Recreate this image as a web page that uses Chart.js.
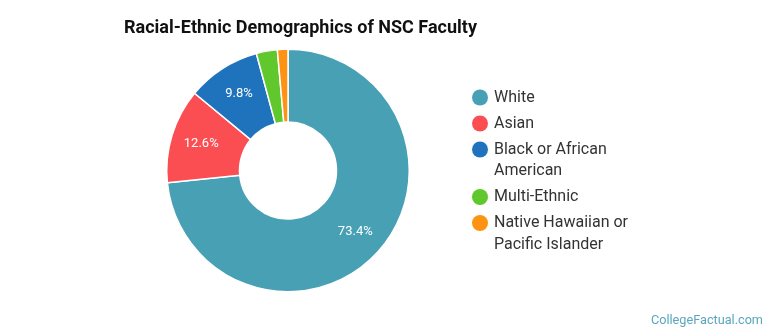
<!DOCTYPE html>
<html>
<head>
<meta charset="utf-8">
<script src="https://cdn.jsdelivr.net/npm/chart.js@4.4.0/dist/chart.umd.min.js"></script>
<style>
html,body{margin:0;padding:0;background:#fff;}
#wrap{position:relative;width:770px;height:335px;}
</style>
</head>
<body>
<div id="wrap"><canvas id="c" width="770" height="335"></canvas></div>
<script>
const titleText = "Racial-Ethnic Demographics of NSC Faculty";
const categories = ["White", "Asian", "Black or African American", "Multi-Ethnic", "Native Hawaiian or Pacific Islander"];
const legendLines = [["White"], ["Asian"], ["Black or African", "American"], ["Multi-Ethnic"], ["Native Hawaiian or", "Pacific Islander"]];
const values = [73.4, 12.6, 9.8, 2.8, 1.4];
const colors = ["#48a0b4", "#fb4e53", "#1f73bd", "#60c72c", "#fe9212"];
const watermark = "CollegeFactual.com";

const FONT = "Roboto, 'Liberation Sans', sans-serif";

const overlay = {
  id: 'overlay',
  afterDraw(chart) {
    const ctx = chart.ctx;
    ctx.save();
    // title
    ctx.fillStyle = '#111';
    ctx.font = "bold 18px " + FONT;
    ctx.textBaseline = 'middle';
    ctx.textAlign = 'left';
    ctx.fillText(titleText, 124, 28);

    // percent labels
    const meta = chart.getDatasetMeta(0);
    const total = values.reduce((a, b) => a + b, 0);
    ctx.font = "13px " + FONT;
    ctx.fillStyle = '#fff';
    ctx.textAlign = 'center';
    meta.data.forEach((arc, i) => {
      const pct = values[i] / total * 100;
      if (pct < 5) return;
      const p = arc.getProps(['x', 'y', 'startAngle', 'endAngle', 'innerRadius', 'outerRadius'], true);
      const a = (p.startAngle + p.endAngle) / 2;
      const r = p.innerRadius + (p.outerRadius - p.innerRadius) * 0.58;
      ctx.fillText(values[i].toFixed(1) + '%', p.x + Math.cos(a) * r, p.y + Math.sin(a) * r);
    });

    // legend
    ctx.font = "16px " + FONT;
    ctx.textAlign = 'left';
    let y = 97.5;
    legendLines.forEach((lines, i) => {
      ctx.fillStyle = colors[i];
      ctx.beginPath();
      ctx.arc(480, y, 8, 0, Math.PI * 2);
      ctx.fill();
      ctx.fillStyle = '#333';
      lines.forEach((ln, j) => {
        ctx.fillText(ln, 494, y + j * 21.5);
      });
      y += 26 + (lines.length - 1) * 21.5;
    });

    // watermark
    ctx.font = "12.7px " + FONT;
    ctx.fillStyle = '#5aa6be';
    ctx.textAlign = 'right';
    ctx.fillText(watermark, 763, 321);
    ctx.restore();
  }
};

new Chart(document.getElementById('c'), {
  type: 'doughnut',
  data: {
    labels: categories,
    datasets: [{
      data: values,
      backgroundColor: colors,
      borderColor: '#fff',
      borderWidth: 1.5
    }]
  },
  options: {
    responsive: false,
    animation: false,
    cutout: '40%',
    layout: { padding: { left: 166, right: 360, top: 48.5, bottom: 42.5 } },
    plugins: {
      legend: { display: false },
      title: { display: false },
      tooltip: { enabled: false }
    }
  },
  plugins: [overlay]
});
</script>
</body>
</html>
